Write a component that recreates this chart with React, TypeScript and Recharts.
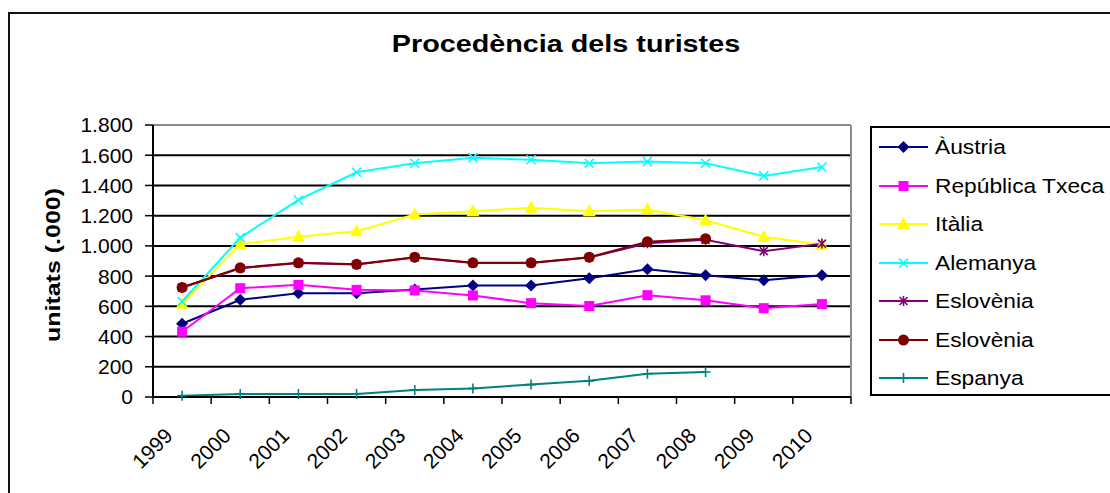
import React from "react";
import { LineChart, Line, XAxis, YAxis, CartesianGrid, ReferenceLine } from "recharts";

const FONT = '"Liberation Sans", Arial, sans-serif';

const years = ["1999", "2000", "2001", "2002", "2003", "2004", "2005", "2006", "2007", "2008", "2009", "2010"];
const austria = [485, 643, 687, 687, 712, 738, 738, 786, 846, 806, 773, 806];
const txeca = [432, 720, 742, 709, 705, 672, 621, 602, 674, 640, 588, 615];
const italia = [617, 1011, 1060, 1097, 1207, 1230, 1252, 1230, 1240, 1170, 1060, 1008];
const alemanya = [632, 1055, 1304, 1487, 1547, 1584, 1570, 1547, 1558, 1547, 1463, 1522];
const esloveniaStar = [725, 852, 887, 877, 923, 887, 887, 923, 1017, 1040, 965, 1015];
const esloveniaDot = [725, 855, 888, 878, 925, 888, 888, 925, 1028, 1048, null, null];
const espanya = [8, 20, 20, 20, 47, 57, 82, 107, 154, 165, null, null];
const yTicks = [0, 200, 400, 600, 800, 1000, 1200, 1400, 1600, 1800];

type Shape = "diamond" | "square" | "triangle" | "x" | "star" | "circle" | "plus";

const series: { key: string; name: string; values: (number | null)[]; color: string; shape: Shape }[] = [
  { key: "austria", name: "Àustria", values: austria, color: "#000080", shape: "diamond" },
  { key: "txeca", name: "República Txeca", values: txeca, color: "#FF00FF", shape: "square" },
  { key: "italia", name: "Itàlia", values: italia, color: "#FFFF00", shape: "triangle" },
  { key: "alemanya", name: "Alemanya", values: alemanya, color: "#00FFFF", shape: "x" },
  { key: "esloveniaStar", name: "Eslovènia", values: esloveniaStar, color: "#800080", shape: "star" },
  { key: "esloveniaDot", name: "Eslovènia", values: esloveniaDot, color: "#800000", shape: "circle" },
  { key: "espanya", name: "Espanya", values: espanya, color: "#008080", shape: "plus" },
];

const data = years.map((year, i) => {
  const row: Record<string, number | string | null> = { idx: i, year };
  series.forEach((s) => {
    row[s.key] = s.values[i];
  });
  return row;
});

const yearIdx = years.map((_, i) => i);
const bounds = [...years.map((_, i) => i - 0.5), years.length - 0.5];

const fmt = (v: number) => String(v).replace(/\B(?=(\d{3})+(?!\d))/g, ".");

function Marker({ cx, cy, shape, color }: { cx?: number; cy?: number; shape: Shape; color: string }) {
  if (cx == null || cy == null || isNaN(cx) || isNaN(cy)) return null;
  switch (shape) {
    case "diamond":
      return <path d={`M${cx},${cy - 6}L${cx + 6},${cy}L${cx},${cy + 6}L${cx - 6},${cy}Z`} fill={color} />;
    case "square":
      return <rect x={cx - 5} y={cy - 5} width={10} height={10} fill={color} />;
    case "triangle":
      return <path d={`M${cx},${cy - 7}L${cx + 6.5},${cy + 5}L${cx - 6.5},${cy + 5}Z`} fill={color} />;
    case "x":
      return (
        <path
          d={`M${cx - 4.5},${cy - 4.5}L${cx + 4.5},${cy + 4.5}M${cx + 4.5},${cy - 4.5}L${cx - 4.5},${cy + 4.5}`}
          stroke={color}
          strokeWidth={1.6}
        />
      );
    case "star":
      return (
        <path
          d={`M${cx - 4},${cy - 4}L${cx + 4},${cy + 4}M${cx + 4},${cy - 4}L${cx - 4},${cy + 4}M${cx},${cy - 5}L${cx},${cy + 5}`}
          stroke={color}
          strokeWidth={1.6}
        />
      );
    case "circle":
      return <circle cx={cx} cy={cy} r={5.5} fill={color} />;
    case "plus":
      return (
        <path d={`M${cx - 5},${cy}L${cx + 5},${cy}M${cx},${cy - 5}L${cx},${cy + 5}`} stroke={color} strokeWidth={1.6} />
      );
  }
  return null;
}

function YearTick(props: any) {
  const { x, y, payload } = props;
  const tx = x - 8;
  const ty = y + 39;
  return (
    <text
      x={tx}
      y={ty}
      transform={`rotate(-45, ${tx}, ${ty})`}
      textAnchor="end"
      fontSize={21}
      fontFamily={FONT}
      fill="#000"
    >
      {years[payload.value]}
    </text>
  );
}

// keeps the tick marks but draws no label on the category boundaries
const NoLabel = () => <g />;

export default function App() {
  return (
    <div
      style={{
        position: "absolute",
        left: 0,
        top: 0,
        width: 1110,
        height: 493,
        overflow: "hidden",
        background: "#fff",
        fontFamily: FONT,
        color: "#000",
      }}
    >
      <div
        style={{
          position: "absolute",
          left: 8,
          top: 12,
          width: 1200,
          height: 600,
          border: "2px solid #111",
          boxSizing: "border-box",
        }}
      />
      <div
        style={{
          position: "absolute",
          left: 0,
          width: 1132,
          top: 33,
          textAlign: "center",
          fontSize: 23,
          fontWeight: "bold",
          lineHeight: "23px",
          transform: "scaleX(1.25)",
        }}
      >
        Procedència dels turistes
      </div>
      <div
        style={{
          position: "absolute",
          left: 53,
          top: 265,
          transform: "translate(-50%, -50%) rotate(-90deg) scaleX(1.25)",
          fontSize: 20,
          fontWeight: "bold",
          lineHeight: "20px",
          whiteSpace: "nowrap",
        }}
      >
        unitats (.000)
      </div>

      <div style={{ position: "absolute", left: 10, top: 14 }}>
        <LineChart width={1150} height={500} data={data} margin={{ top: 111, right: 309, bottom: 17, left: 0 }}>
          <CartesianGrid xAxisId="years" vertical={false} stroke="#000" strokeWidth={2} />
          <XAxis
            xAxisId="marks"
            type="number"
            dataKey="idx"
            domain={[-0.5, 11.5]}
            ticks={bounds}
            interval={0}
            tick={<NoLabel />}
            tickSize={7}
            height={1}
            axisLine={{ stroke: "#000", strokeWidth: 2 }}
            tickLine={{ stroke: "#000", strokeWidth: 1.5 }}
          />
          <XAxis
            xAxisId="years"
            type="number"
            dataKey="idx"
            domain={[-0.5, 11.5]}
            ticks={yearIdx}
            interval={0}
            axisLine={false}
            tickLine={false}
            tickSize={0}
            tickMargin={0}
            height={99}
            tick={<YearTick />}
          />
          <YAxis
            domain={[0, 1800]}
            ticks={yTicks}
            interval={0}
            tickFormatter={fmt}
            width={143}
            tickSize={8}
            tickMargin={12}
            axisLine={{ stroke: "#000", strokeWidth: 2 }}
            tickLine={{ stroke: "#000", strokeWidth: 1.5 }}
            tick={{ fill: "#000", fontSize: 21, fontFamily: FONT }}
          />
          <ReferenceLine xAxisId="years" y={1800} stroke="#8c8c8c" strokeWidth={2} />
          <ReferenceLine xAxisId="years" x={11.5} stroke="#8c8c8c" strokeWidth={2} />
          {series.map((s) => (
            <Line
              key={s.key}
              xAxisId="years"
              dataKey={s.key}
              name={s.name}
              stroke={s.color}
              strokeWidth={2}
              dot={(p: any) => <Marker key={`${s.key}-${p.index}`} cx={p.cx} cy={p.cy} shape={s.shape} color={s.color} />}
              activeDot={false}
              isAnimationActive={false}
            />
          ))}
        </LineChart>
      </div>

      <div
        style={{
          position: "absolute",
          left: 870,
          top: 126,
          width: 300,
          height: 270,
          border: "2px solid #000",
          boxSizing: "border-box",
        }}
      >
        {series.map((s) => (
          <div key={s.key} style={{ display: "flex", alignItems: "center", height: 38.5, paddingLeft: 7 }}>
            <svg width={56} height={20} style={{ flex: "none" }}>
              <line x1={0} x2={49} y1={10} y2={10} stroke={s.color} strokeWidth={2} />
              <Marker cx={24.5} cy={10} shape={s.shape} color={s.color} />
            </svg>
            <span
              style={{
                fontSize: 20.5,
                lineHeight: "22px",
                whiteSpace: "nowrap",
                display: "inline-block",
                transform: "scaleX(1.11)",
                transformOrigin: "left center",
              }}
            >
              {s.name}
            </span>
          </div>
        ))}
      </div>
    </div>
  );
}
